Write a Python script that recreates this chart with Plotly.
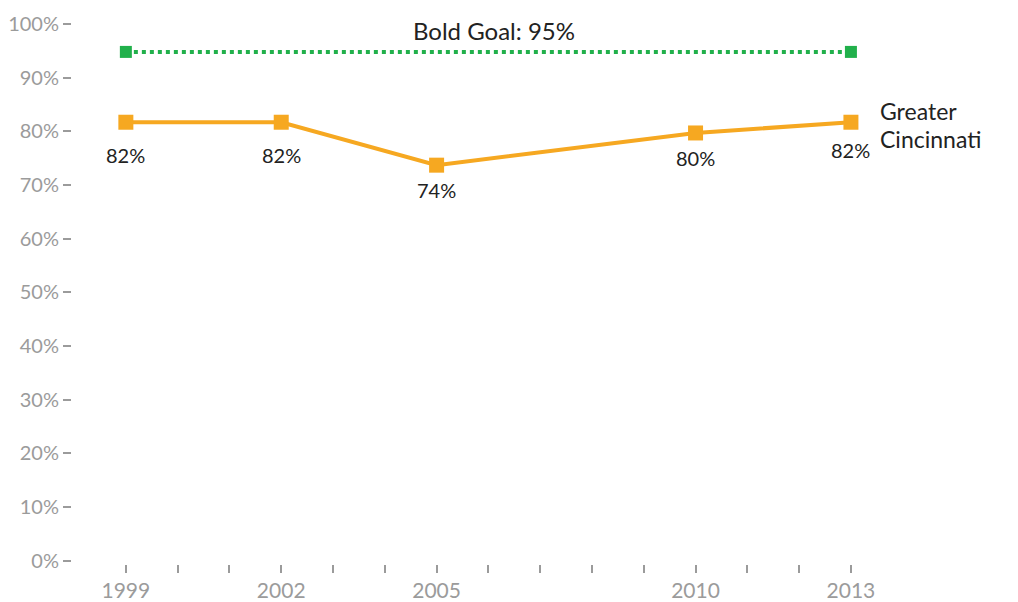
import plotly.graph_objects as go

years = [1999, 2002, 2005, 2010, 2013]
cincinnati = [81.7, 81.7, 73.7, 79.7, 81.7]
cin_labels = ["82%", "82%", "74%", "80%", "82%"]
goal_years = [1999, 2013]
goal_values = [94.8, 94.8]
y_ticks = [0, 10, 20, 30, 40, 50, 60, 70, 80, 90, 100]
y_tick_text = [f"{v}%" for v in y_ticks]
x_tick_years = list(range(1999, 2014))
x_labeled_years = [1999, 2002, 2005, 2010, 2013]
x_tick_text = [str(y) if y in x_labeled_years else "" for y in x_tick_years]

# label placement (styling only)
label_shift = [-33, -33, -25, -25, -28]

FONT = "Lato"
ORANGE = "#F6A821"
GREEN = "#21B04B"
GRAY = "#9b9b9b"

fig = go.Figure()
fig.add_trace(go.Scatter(
    x=goal_years, y=goal_values, mode="lines+markers",
    line=dict(color=GREEN, width=4, dash="dot"),
    marker=dict(symbol="square", size=12, color=GREEN),
    showlegend=False, hoverinfo="skip"))
fig.add_trace(go.Scatter(
    x=years, y=cincinnati, mode="lines+markers",
    line=dict(color=ORANGE, width=4),
    marker=dict(symbol="square", size=15, color=ORANGE),
    showlegend=False, hoverinfo="skip"))

for xv, yv, t, s in zip(years, cincinnati, cin_labels, label_shift):
    fig.add_annotation(x=xv, y=yv, text=t, showarrow=False, yshift=s,
                       font=dict(family=FONT, size=20, color="#222"))

fig.add_annotation(x=2006.1, y=goal_values[0], text="Bold Goal: 95%", showarrow=False,
                   yshift=21, font=dict(family=FONT, size=24, color="#222"))
fig.add_annotation(x=2013, y=cincinnati[-1], text="Greater", showarrow=False,
                   xanchor="left", xshift=28, yshift=11, borderpad=0,
                   font=dict(family=FONT, size=23, color="#222"))
fig.add_annotation(x=2013, y=cincinnati[-1], text="Cincinnati", showarrow=False,
                   xanchor="left", xshift=28, yshift=-17, borderpad=0,
                   font=dict(family=FONT, size=23, color="#222"))

fig.update_layout(
    width=1010, height=594,
    margin=dict(l=64, r=20, t=16, b=38),
    plot_bgcolor="white", paper_bgcolor="white",
    font=dict(family=FONT, color=GRAY),
    xaxis=dict(range=[1997.96, 2015.84], tickvals=x_tick_years, ticktext=x_tick_text,
               ticks="outside", ticklen=8, tickwidth=2, tickcolor=GRAY, showgrid=False,
               zeroline=False, showline=False, automargin=False,
               tickfont=dict(family=FONT, size=21, color=GRAY)),
    yaxis=dict(range=[-0.6, 100], tickvals=y_ticks, ticktext=y_tick_text, ticks="outside",
               ticklen=8, tickwidth=2, tickcolor=GRAY, showgrid=False, zeroline=False,
               showline=False, automargin=False,
               tickfont=dict(family=FONT, size=20, color=GRAY)),
)

fig.write_html("out.html")
